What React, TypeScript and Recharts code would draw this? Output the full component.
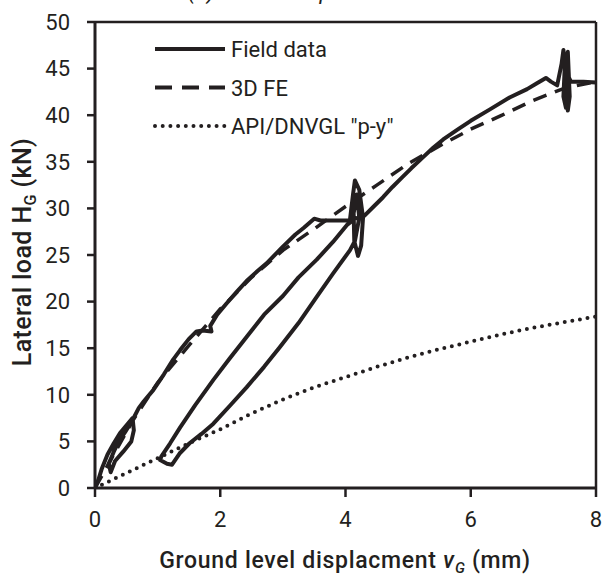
import React from "react"
import {
  LineChart,
  Line,
  XAxis,
  YAxis,
  ReferenceLine,
  Label,
} from "recharts"

// Field data (measured), path order kept as recorded
const fieldDisp = [
  0, 0.05, 0.11, 0.2, 0.3, 0.4, 0.5, 0.6, 0.62, 0.58, 0.45, 0.32, 0.25, 0.22, 0.3, 0.38, 0.48, 0.6,
  0.7, 0.78, 0.93, 1.1, 1.25, 1.36, 1.5, 1.62, 1.72, 1.86, 1.84, 1.95, 2.1, 2.27, 2.42, 2.6, 2.74,
  3.0, 3.2, 3.33, 3.5, 3.6, 3.8, 4.07,
  4.12, 4.15, 4.22, 4.28, 4.25, 4.2, 4.14, 4.13, 4.18, 4.22, 4.15,
  4.07, 3.8, 3.54, 3.25, 2.95, 2.7, 2.42, 2.15, 1.89, 1.7, 1.51, 1.35, 1.23, 1.15, 1.04, 1.06,
  1.2, 1.36, 1.6, 1.89, 2.15, 2.42, 2.7, 3.0, 3.25, 3.54, 3.8, 4.02, 4.15, 4.3, 4.45, 4.6, 4.75,
  4.9, 5.05, 5.24, 5.4, 5.56, 5.8, 6.0, 6.3, 6.62, 6.9, 7.05, 7.2, 7.28, 7.38,
  7.45, 7.48, 7.52, 7.55, 7.58, 7.55, 7.5, 7.48, 7.52, 7.57, 7.6, 7.8, 8.0,
]
const fieldLoad = [
  0, 0.8, 2.1, 3.6, 4.8, 5.9, 6.7, 7.5, 6.2, 5.0, 3.9, 2.9, 1.7, 2.6, 3.9, 5.0, 6.0, 7.3,
  8.6, 9.3, 10.5, 12.2, 13.8, 14.8, 16.0, 16.8, 16.9, 16.8, 17.4, 18.6, 19.8, 21.1, 22.2, 23.3, 24.1,
  25.9, 27.2, 27.9, 28.9, 28.7, 28.7, 28.7,
  31.5, 33.0, 32.0, 29.0, 26.0, 24.9, 26.5, 29.5, 31.5, 29.0, 26.5,
  25.5, 23.0, 20.5, 17.7, 15.1, 13.0, 10.8, 8.8, 6.9, 5.8, 4.8, 3.7, 2.5, 2.6, 3.0, 3.4,
  4.8, 6.5, 8.9, 11.6, 13.9, 16.2, 18.6, 20.6, 22.6, 24.5, 26.4, 28.2, 28.9, 29.2, 30.2, 31.2, 32.3,
  33.3, 34.3, 35.5, 36.5, 37.4, 38.5, 39.4, 40.6, 41.9, 42.8, 43.4, 44.0, 43.6, 43.2,
  45.5, 47.0, 44.0, 40.5, 42.0, 46.8, 45.0, 42.0, 40.8, 44.0, 43.6, 43.6, 43.5,
]

// 3D FE prediction
const feDisp = [0, 0.3, 0.6, 1, 1.5, 2, 2.5, 3, 3.5, 4, 4.5, 5, 5.5, 6, 6.5, 7, 7.5, 8]
const feLoad = [0, 3.6, 7.2, 11.3, 15.3, 19.2, 22.6, 25.5, 27.8, 30.2, 32.5, 34.8, 36.7, 38.5, 40, 41.6, 42.9, 43.6]

// API/DNVGL "p-y" prediction
const apiDisp = [0, 0.5, 1, 1.5, 2, 2.5, 3, 3.5, 4, 4.5, 5, 5.5, 6, 6.5, 7, 7.5, 8]
const apiLoad = [0, 1.6, 3.2, 4.8, 6.3, 8.0, 9.5, 10.8, 11.9, 13.0, 14.0, 14.9, 15.7, 16.5, 17.2, 17.8, 18.4]

const xTicks = [0, 2, 4, 6, 8]
const yTicks = [0, 5, 10, 15, 20, 25, 30, 35, 40, 45, 50]

const fieldData = fieldDisp.map((x, i) => ({ x, y: fieldLoad[i] }))
const feData = feDisp.map((x, i) => ({ x, y: feLoad[i] }))
const apiData = apiDisp.map((x, i) => ({ x, y: apiLoad[i] }))

const INK = "#231f20"
const FONT = "Roboto, 'Liberation Sans', sans-serif"

const legendItems = [
  { label: "Field data", dash: undefined as string | undefined, cap: "butt" as const, width: 4 },
  { label: "3D FE", dash: "17 10", cap: "butt" as const, width: 4 },
  { label: 'API/DNVGL "p-y"', dash: "0 7.7", cap: "round" as const, width: 4 },
]

function LegendBox() {
  return (
    <svg width={260} height={120} style={{ position: "absolute", left: 153, top: 37, overflow: "visible" }}>
      {legendItems.map((item, i) => {
        const cy = 12 + i * 38.5
        return (
          <g key={item.label}>
            <line
              x1={2}
              x2={72}
              y1={cy}
              y2={cy}
              stroke={INK}
              strokeWidth={item.width}
              strokeDasharray={item.dash}
              strokeLinecap={item.cap}
            />
            <text x={78} y={cy + 8} fontSize={22} fontFamily={FONT} fill={INK}>
              {item.label}
            </text>
          </g>
        )
      })}
    </svg>
  )
}

export default function App() {
  return (
    <div style={{ position: "absolute", left: 0, top: 0, width: 607, height: 579, background: "#fff", overflow: "hidden" }}>
      <LineChart width={607} height={579} margin={{ top: 22, right: 11, bottom: 61, left: 35 }}>
        <XAxis
          dataKey="x"
          type="number"
          domain={[0, 8]}
          ticks={xTicks}
          height={30}
          allowDataOverflow
          axisLine={{ stroke: INK, strokeWidth: 3 }}
          tickLine={{ stroke: INK, strokeWidth: 2.5 }}
          tickSize={9}
          tickMargin={14}
          tick={{ fontSize: 22, fill: INK, fontFamily: FONT }}
        >
          <Label
            content={() => (
              <text
                x={345}
                y={568}
                textAnchor="middle"
                fontSize={23}
                fontWeight={500}
                letterSpacing={0.7}
                fontFamily={FONT}
                fill={INK}
              >
                Ground level displacment{" "}
                <tspan fontStyle="italic">v</tspan>
                <tspan fontStyle="italic" fontSize={15} dy={5}>G</tspan>
                <tspan dy={-5}> (mm)</tspan>
              </text>
            )}
          />
        </XAxis>
        <YAxis
          dataKey="y"
          type="number"
          domain={[0, 50]}
          ticks={yTicks}
          width={60}
          allowDataOverflow
          axisLine={{ stroke: INK, strokeWidth: 3 }}
          tickLine={{ stroke: INK, strokeWidth: 2.5 }}
          tickSize={8}
          tickMargin={17}
          tick={{ fontSize: 22, fill: INK, fontFamily: FONT }}
        >
          <Label
            content={() => (
              <text
                x={31}
                y={252}
                transform="rotate(-90 31 252)"
                textAnchor="middle"
                fontSize={25}
                fontWeight={500}
                letterSpacing={0.4}
                fontFamily={FONT}
                fill={INK}
              >
                Lateral load H
                <tspan fontSize={16} dy={5}>G</tspan>
                <tspan dy={-5}> (kN)</tspan>
              </text>
            )}
          />
        </YAxis>
        <ReferenceLine y={50} stroke={INK} strokeWidth={2.5} />
        <ReferenceLine x={8} stroke={INK} strokeWidth={2.5} />
        <Line
          data={apiData}
          dataKey="y"
          name='API/DNVGL "p-y"'
          stroke={INK}
          strokeWidth={4}
          strokeDasharray="0 7.7"
          strokeLinecap="round"
          dot={false}
          isAnimationActive={false}
        />
        <Line
          data={feData}
          dataKey="y"
          name="3D FE"
          stroke={INK}
          strokeWidth={3.5}
          strokeDasharray="14 9"
          dot={false}
          isAnimationActive={false}
        />
        <Line
          data={fieldData}
          dataKey="y"
          name="Field data"
          stroke={INK}
          strokeWidth={4}
          strokeLinejoin="round"
          dot={false}
          isAnimationActive={false}
        />
      </LineChart>
      <LegendBox />
      <div
        style={{
          position: "absolute",
          left: 188,
          top: -21,
          fontFamily: FONT,
          fontStyle: "italic",
          fontSize: 22,
          lineHeight: "26px",
          color: INK,
          whiteSpace: "nowrap",
        }}
      >
        (a) Overall response
      </div>
    </div>
  )
}
